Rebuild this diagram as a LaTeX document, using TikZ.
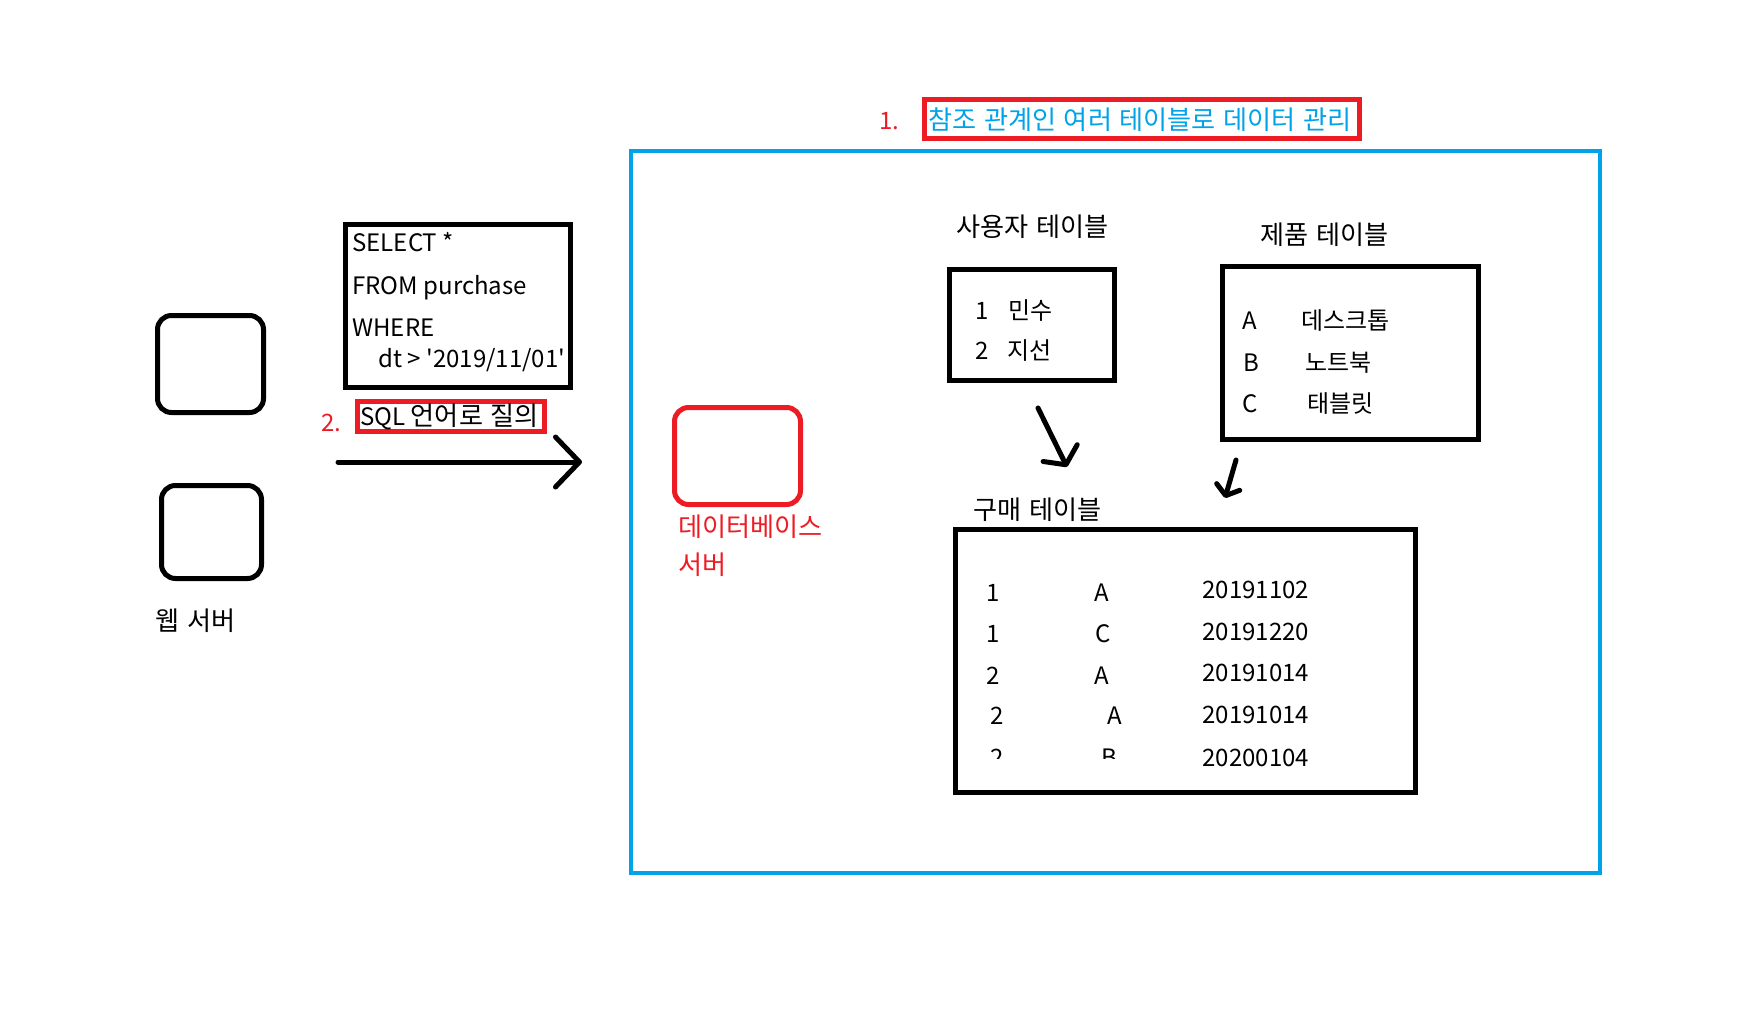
\documentclass[tikz,border=0pt]{standalone}
\usepackage{fontspec}
\setmainfont{Noto Sans CJK KR}
\newfontfamily\krfont{Noto Sans CJK KR}[Scale=1.09, WordSpace=1.3]
\usetikzlibrary{arrows.meta}
\definecolor{paintred}{RGB}{237,28,36}
\definecolor{paintblue}{RGB}{0,162,232}
\tikzset{
  txt/.style={inner sep=0pt, anchor=west, text height=.9em, text depth=0pt, font=\fontsize{12}{14}\selectfont},
  krtxt/.style={txt, font=\fontsize{12}{14}\krfont},
  redtxt/.style={txt, text=paintred},
  box/.style={draw, line width=2.5pt, inner sep=0pt},
  roundbox/.style={box, rounded corners=7pt},
  redbox/.style={draw=paintred, line width=2.3pt, inner sep=0pt},
  handarrow/.style={line width=2.5pt, line cap=round},
}
\begin{document}
\begin{tikzpicture}[x=0.5pt, y=-0.5pt]
  \useasboundingbox (0,0) rectangle (1761,1012);
  % web servers
  \node[roundbox, minimum width=53pt, minimum height=48.5pt] (web1) at (210.5,364) {};
  \node[roundbox, minimum width=50pt, minimum height=46.5pt] (web2) at (211.5,532) {};
  \node[krtxt] (weblbl) at (155,621) {웹 서버};
  % query
  \node[box, minimum width=112.5pt, minimum height=81.5pt] (query) at (458,306) {};
  \node[txt] (q1) at (352,242) {SELECT *};
  \node[txt] (q2) at (352,285) {FROM purchase};
  \node[txt] (q3) at (352,327) {WHERE};
  \node[txt] (q4) at (378,358) {dt > \textquotesingle2019/11/01\textquotesingle};
  \node[redbox, minimum width=93.5pt, minimum height=15pt] (sqlbox) at (451,416.5) {};
  \node[txt] (sqllbl) at (360,416) {SQL {\krfont 언어로 질의}};
  \node[redtxt] (num2) at (321,422) {2.};
  \coordinate (qstart) at (338,462);
  \coordinate (qend) at (582,462);
  \draw[handarrow, -{Straight Barb[length=12pt, width=25pt, line cap=round, line join=round]}] (qstart) -- (qend);
  % database server
  \node[box, draw=paintblue, line width=2pt, minimum width=484.5pt, minimum height=361pt] (frame) at (1115.5,512) {};
  \node[roundbox, draw=paintred, minimum width=63pt, minimum height=48.5pt] (db) at (737.5,456) {};
  \node[krtxt, text=paintred] (dblbl1) at (678,527) {데이터베이스};
  \node[krtxt, text=paintred] (dblbl2) at (678,565) {서버};
  \node[redtxt] (num1) at (879,120) {1.};
  \node[redbox, line width=2.5pt, minimum width=217.5pt, minimum height=19.5pt] (titlebox) at (1142,119) {};
  \node[krtxt, text=paintblue] (title) at (928,120) {참조 관계인 여러 테이블로 데이터 관리};
  % user table
  \node[krtxt] (userlbl) at (956,227) {사용자 테이블};
  \node[box, minimum width=82.5pt, minimum height=55.5pt] (users) at (1032,325) {};
  \node[txt] (u1) at (975,310) {1};
  \node[txt] (u1n) at (1008,310) {민수};
  \node[txt] (u2) at (975,350) {2};
  \node[txt] (u2n) at (1007,350) {지선};
  % product table
  \node[krtxt] (prodlbl) at (1260,235) {제품 테이블};
  \node[box, minimum width=128pt, minimum height=86.5pt] (products) at (1350.5,353) {};
  \node[txt] (pa) at (1242,320) {A};
  \node[txt] (pan) at (1301,320) {데스크톱};
  \node[txt] (pb) at (1243,362) {B};
  \node[txt] (pbn) at (1305,362) {노트북};
  \node[txt] (pc) at (1242,403) {C};
  \node[txt] (pcn) at (1307,403) {태블릿};
  % purchase table
  \node[krtxt] (buylbl) at (973,510) {구매 테이블};
  \node[box, minimum width=230pt, minimum height=131.5pt] (purchases) at (1185.5,661) {};
  \node[txt] (b1a) at (986,592) {1};
  \node[txt] (b1b) at (1094,592) {A};
  \node[txt] (b1c) at (1202,589) {20191102};
  \node[txt] (b2a) at (986,633) {1};
  \node[txt] (b2b) at (1095,633) {C};
  \node[txt] (b2c) at (1202,631) {20191220};
  \node[txt] (b3a) at (986,675) {2};
  \node[txt] (b3b) at (1094,675) {A};
  \node[txt] (b3c) at (1202,672) {20191014};
  \node[txt] (b4a) at (990,715) {2};
  \node[txt] (b4b) at (1107,715) {A};
  \node[txt] (b4c) at (1202,714) {20191014};
  \begin{scope}
    \clip (960,700) rectangle (1150,758);
    \node[txt] (b5a) at (990,757) {2};
    \node[txt] (b5b) at (1101,757) {B};
  \end{scope}
  \node[txt] (b5c) at (1202,757) {20200104};
  % references
  \coordinate (ufrom) at (1038,408);
  \coordinate (uto) at (1067,467);
  \draw[handarrow, -{Straight Barb[length=6.5pt, width=19pt, line cap=round, line join=round]}] (ufrom) -- (uto);
  \coordinate (pfrom) at (1236,460);
  \coordinate (pto) at (1225,498);
  \draw[handarrow, -{Straight Barb[length=4.5pt, width=12pt, line cap=round, line join=round]}] (pfrom) -- (pto);
\end{tikzpicture}
\end{document}
